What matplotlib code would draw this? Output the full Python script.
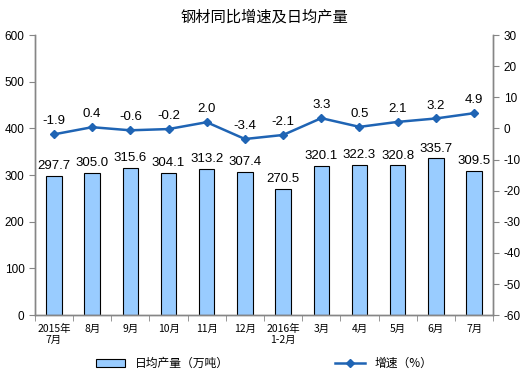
import matplotlib
matplotlib.use("Agg")
import matplotlib.pyplot as plt
import numpy as np

plt.rcParams['font.family'] = ['Liberation Sans', 'Noto Sans CJK SC', 'DejaVu Sans']
plt.rcParams['axes.unicode_minus'] = False

# data
months = ['2015年\n7月', '8月', '9月', '10月', '11月', '12月', '2016年\n1-2月',
          '3月', '4月', '5月', '6月', '7月']
daily_output = [297.7, 305.0, 315.6, 304.1, 313.2, 307.4, 270.5,
                320.1, 322.3, 320.8, 335.7, 309.5]
growth = [-1.9, 0.4, -0.6, -0.2, 2.0, -3.4, -2.1, 3.3, 0.5, 2.1, 3.2, 4.9]

bar_color = '#99CCFF'
line_color = '#1F64B4'
axis_color = '#868686'

fig = plt.figure(figsize=(5.28, 3.77), dpi=100)
ax = fig.add_axes([0.066, 0.164, 0.868, 0.743])
ax2 = ax.twinx()

x = np.arange(len(months))
bars = ax.bar(x, daily_output, width=0.4, color=bar_color, edgecolor='black',
              linewidth=0.8, label='日均产量（万吨）', zorder=2)
for xi, v in zip(x, daily_output):
    ax.text(xi, v + 8, f'{v:.1f}', ha='center', va='bottom', fontsize=9.5,
            family=['Liberation Sans'])

line, = ax2.plot(x, growth, color=line_color, linewidth=1.8, marker='D',
                 markersize=4, label='增速（%）', zorder=3)
for xi, v in zip(x, growth):
    ax2.text(xi, v + 2.2, f'{v:.1f}', ha='center', va='bottom', fontsize=9.5,
             family=['Liberation Sans'])

ax.set_xlim(-0.5, len(months) - 0.5)
ax.set_ylim(0, 600)
ax.set_yticks(range(0, 601, 100))
ax2.set_ylim(-60, 30)
ax2.set_yticks(range(-60, 31, 10))

ax.set_xticks(x)
ax.set_xticklabels(months, fontsize=7.5, family=['Noto Sans CJK SC'], linespacing=1.2)
ax.set_xticks(np.arange(-0.5, len(months), 1), minor=True)
ax.tick_params(axis='x', which='major', length=0, pad=6)
ax.tick_params(axis='x', which='minor', length=4, color=axis_color)
ax.tick_params(axis='y', labelsize=8.5, length=4, color=axis_color)
ax2.tick_params(axis='y', labelsize=8.5, length=4, color=axis_color)

for a in (ax, ax2):
    a.spines['top'].set_visible(False)
    for s in ('left', 'right', 'bottom'):
        a.spines[s].set_color(axis_color)
        a.spines[s].set_linewidth(1)

fig.text(0.5, 0.955, '钢材同比增速及日均产量', ha='center', va='center',
         fontsize=11, family=['Noto Sans CJK SC'])

fig.legend([bars, line], ['日均产量（万吨）', '增速（%）'], loc='lower center',
           bbox_to_anchor=(0.5, -0.01), ncol=2, frameon=False, columnspacing=9,
           prop={'family': 'Noto Sans CJK SC', 'size': 8.5}, handlelength=2.5)

fig.savefig('out.png', dpi=100)
